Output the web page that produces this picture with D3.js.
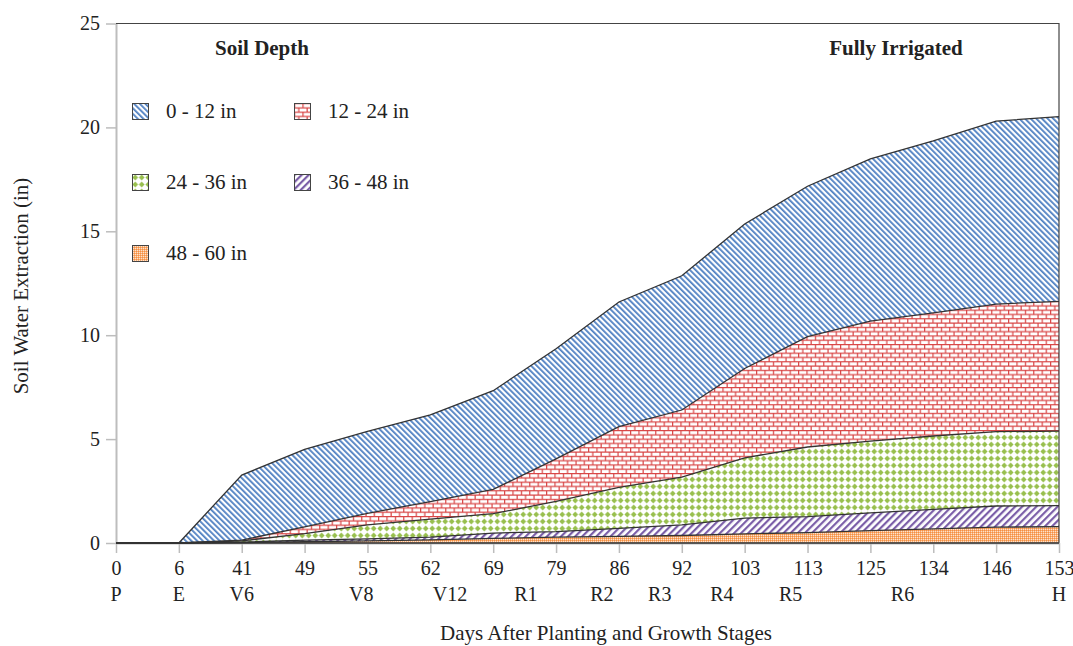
<!DOCTYPE html>
<html>
<head>
<meta charset="utf-8">
<script src="https://cdn.jsdelivr.net/npm/d3@7"></script>
<style>
  body { margin: 0; background: #fff; }
  svg text { font-family: "Liberation Serif", "Times New Roman", serif; fill: #222; }
</style>
</head>
<body>
<svg id="chart" width="1073" height="646"></svg>
<script>
// days after planting (categories on the x axis)
const days = [0, 6, 41, 49, 55, 62, 69, 79, 86, 92, 103, 113, 125, 134, 146, 153];

// growth stages and the day they fall on
const stageNames = ["P", "E", "V6", "V8", "V12", "R1", "R2", "R3", "R4", "R5", "R6", "H"];
const stageDays = [0, 6, 41, 54.4, 64.2, 74.2, 84.1, 89.9, 99, 110.3, 129.6, 153];

// water extracted from each soil layer (in)
const depth0to12 = [0, 0, 3.13, 3.73, 3.94, 4.18, 4.75, 5.30, 6.00, 6.46, 6.95, 7.24, 7.80, 8.28, 8.80, 8.89];
const depth12to24 = [0, 0, 0.04, 0.33, 0.56, 0.84, 1.17, 2.05, 2.92, 3.23, 4.30, 5.31, 5.78, 5.92, 6.14, 6.25];
const depth24to36 = [0, 0, 0.06, 0.31, 0.67, 0.87, 0.93, 1.45, 1.98, 2.30, 2.90, 3.35, 3.45, 3.53, 3.58, 3.58];
const depth36to48 = [0, 0, 0.02, 0.08, 0.10, 0.13, 0.26, 0.27, 0.38, 0.51, 0.76, 0.77, 0.85, 0.94, 1.02, 1.01];
const depth48to60 = [0, 0, 0.02, 0.06, 0.10, 0.15, 0.22, 0.28, 0.32, 0.36, 0.44, 0.50, 0.60, 0.68, 0.76, 0.79];

const depthNames = ["0 - 12 in", "12 - 24 in", "24 - 36 in", "36 - 48 in", "48 - 60 in"];
const yTicks = [0, 5, 10, 15, 20, 25];

const svg = d3.select("#chart");
const plotLeft = 116, plotRight = 1059, plotTop = 23.5, plotBottom = 543;
const font = "Liberation Serif, Times New Roman, serif";

// patterns
const defs = svg.append("defs");

const blue = defs.append("pattern").attr("id", "p0").attr("patternUnits", "userSpaceOnUse")
    .attr("width", 4).attr("height", 4).attr("patternTransform", "rotate(-45)");
blue.append("rect").attr("width", 4).attr("height", 4).attr("fill", "#fff");
blue.append("rect").attr("width", 1.8).attr("height", 4).attr("fill", "#4f80c2");

const red = defs.append("pattern").attr("id", "p1").attr("patternUnits", "userSpaceOnUse")
    .attr("width", 8.4).attr("height", 8.6);
red.append("rect").attr("width", 8.4).attr("height", 8.6).attr("fill", "#fff");
red.append("path").attr("fill", "none").attr("stroke", "#d84444").attr("stroke-width", 1.2)
    .attr("d", "M0,0.6H8.4M0,4.9H8.4M0.6,0.6V4.9M4.8,4.9V8.6");

const green = defs.append("pattern").attr("id", "p2").attr("patternUnits", "userSpaceOnUse")
    .attr("width", 6.5).attr("height", 7);
green.append("rect").attr("width", 6.5).attr("height", 7).attr("fill", "#fff");
green.append("path").attr("d", "M3.25,0.6L6.1,3.5L3.25,6.4L0.4,3.5Z").attr("fill", "#98bf4e");

const purple = defs.append("pattern").attr("id", "p3").attr("patternUnits", "userSpaceOnUse")
    .attr("width", 5).attr("height", 5).attr("patternTransform", "rotate(45)");
purple.append("rect").attr("width", 5).attr("height", 5).attr("fill", "#fff");
purple.append("rect").attr("width", 2.2).attr("height", 5).attr("fill", "#7b5ea8");

const orange = defs.append("pattern").attr("id", "p4").attr("patternUnits", "userSpaceOnUse")
    .attr("width", 2).attr("height", 2);
orange.append("rect").attr("width", 2).attr("height", 2).attr("fill", "#f8ad72");
orange.append("rect").attr("width", 1).attr("height", 1).attr("fill", "#f58f42");
orange.append("rect").attr("x", 1).attr("y", 1).attr("width", 1).attr("height", 1).attr("fill", "#fde2cc");

// scales
const x = d3.scalePoint().domain(d3.range(days.length)).range([plotLeft, plotRight]);
const dayX = d3.scaleLinear().domain(days).range(days.map((d, i) => x(i)));
const y = d3.scaleLinear().domain([0, 25]).range([plotBottom, plotTop]);

// stack, deepest layer at the bottom
const layers = [depth0to12, depth12to24, depth24to36, depth36to48, depth48to60];
const rows = days.map((d, i) => {
    const r = { i: i };
    layers.forEach((l, k) => r[k] = l[i]);
    return r;
});
const series = d3.stack().keys([4, 3, 2, 1, 0])(rows);

const area = d3.area().x(d => x(d.data.i)).y0(d => y(d[0])).y1(d => y(d[1]));
const line = d3.line().x(d => x(d.data.i)).y(d => y(d[1]));

svg.append("g").selectAll("path").data(series).enter().append("path")
    .attr("d", area)
    .attr("fill", d => `url(#p${d.key})`);

// frame
svg.append("path").attr("d", `M${plotLeft},${plotTop}H${plotRight}V${plotBottom}`)
    .attr("fill", "none").attr("stroke", "#444").attr("stroke-width", 1.2);

// y axis
const yAxis = svg.append("g").attr("transform", `translate(${plotLeft},0)`)
    .call(d3.axisLeft(y).tickValues(yTicks).tickSize(10).tickPadding(6).tickSizeOuter(0));
yAxis.select(".domain").attr("stroke", "#bdbdbd").attr("stroke-width", 2);
yAxis.selectAll(".tick line").attr("stroke", "#bdbdbd").attr("stroke-width", 1.5);
yAxis.selectAll("text").attr("font-size", 20).attr("fill", "#222").attr("font-family", font);

// x axis
const xAxis = svg.append("g").attr("transform", `translate(0,${plotBottom})`)
    .call(d3.axisBottom(x).tickFormat(i => days[i]).tickSize(10).tickPadding(8).tickSizeOuter(0));
xAxis.select(".domain").attr("stroke", "#bdbdbd").attr("stroke-width", 2);
xAxis.selectAll(".tick line").attr("stroke", "#bdbdbd").attr("stroke-width", 1.5);
xAxis.selectAll("text").attr("font-size", 20).attr("fill", "#222").attr("font-family", font);

// layer outlines (first one is the zero line along the axis)
svg.append("path").attr("d", d3.line().x(d => x(d.i)).y(y(0))(rows))
    .attr("fill", "none").attr("stroke", "#333").attr("stroke-width", 1.3);
svg.append("g").selectAll("path").data(series).enter().append("path")
    .attr("d", line)
    .attr("fill", "none")
    .attr("stroke", "#333")
    .attr("stroke-width", 1.3);

// growth stages
svg.append("g").selectAll("text").data(stageNames).enter().append("text")
    .attr("x", (d, i) => dayX(stageDays[i]))
    .attr("y", 601)
    .attr("text-anchor", "middle")
    .attr("font-size", 20)
    .text(d => d);

// axis titles
svg.append("text").attr("x", 606).attr("y", 640).attr("text-anchor", "middle")
    .attr("font-size", 21).text("Days After Planting and Growth Stages");
svg.append("text").attr("transform", "translate(28,286) rotate(-90)").attr("text-anchor", "middle")
    .attr("font-size", 21).text("Soil Water Extraction (in)");

// panel labels
svg.append("text").attr("x", 262).attr("y", 55).attr("text-anchor", "middle")
    .attr("font-size", 21).attr("font-weight", "bold").text("Soil Depth");
svg.append("text").attr("x", 896).attr("y", 55).attr("text-anchor", "middle")
    .attr("font-size", 21).attr("font-weight", "bold").text("Fully Irrigated");

// legend
const legendPos = [[132, 103], [294, 103], [132, 174], [294, 174], [132, 245]];
const legend = svg.append("g").selectAll("g").data(depthNames).enter().append("g")
    .attr("transform", (d, i) => `translate(${legendPos[i][0]},${legendPos[i][1]})`);
legend.append("rect").attr("x", 0.5).attr("y", 0.5).attr("width", 16).attr("height", 16)
    .attr("fill", (d, i) => `url(#p${i})`).attr("stroke", "#444").attr("stroke-width", 1);
legend.append("text").attr("x", 34).attr("y", 14.5).attr("font-size", 21).text(d => d);
</script>
</body>
</html>
